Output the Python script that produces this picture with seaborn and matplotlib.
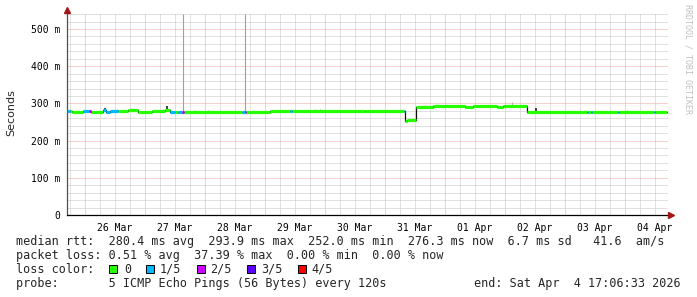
import matplotlib
matplotlib.use("Agg")
import matplotlib.pyplot as plt
import matplotlib.dates as mdates
import matplotlib.ticker as mticker
import matplotlib.transforms as mtransforms
from matplotlib.patches import Rectangle
import numpy as np
import pandas as pd
import seaborn as sns

# ---------------- data ----------------
seg_edges = [
    "2026-03-25 16:48", "2026-03-25 18:00", "2026-03-25 18:48", "2026-03-25 23:12",
    "2026-03-26 01:36", "2026-03-26 02:12", "2026-03-26 07:12", "2026-03-26 08:24",
    "2026-03-26 10:00", "2026-03-26 13:12", "2026-03-26 17:12", "2026-03-26 21:12",
    "2026-03-27 02:48", "2026-03-27 08:00", "2026-03-27 10:00", "2026-03-27 12:00",
    "2026-03-27 13:12", "2026-03-27 14:48", "2026-03-27 15:24", "2026-03-28 14:48",
    "2026-03-28 15:48", "2026-03-28 16:12", "2026-03-29 02:00", "2026-03-29 10:00",
    "2026-03-29 10:48", "2026-03-30 16:00", "2026-03-31 07:36", "2026-03-31 08:00",
    "2026-03-31 08:48", "2026-03-31 12:24", "2026-03-31 19:12", "2026-04-01 08:00",
    "2026-04-01 11:12", "2026-04-01 20:48", "2026-04-01 23:12", "2026-04-02 08:48",
    "2026-04-03 08:48", "2026-04-03 09:12", "2026-04-03 10:24", "2026-04-03 10:48",
    "2026-04-03 21:12", "2026-04-03 21:36", "2026-04-04 11:36", "2026-04-04 12:00",
    "2026-04-04 17:00",
]
seg_rtt_ms = [
    279, 279, 277, 280.5, 280, 277.5, 281, 278, 280, 280, 283.5, 277.5,
    280, 282, 277, 277.5, 277, 278, 277.5, 277.5, 278, 278, 279.5, 280,
    280, 278.5, 278.5, 252, 255.5, 289, 293.5, 291.5, 293.5, 291.5, 293.5, 277.5,
    277.5, 277.5, 277.5, 277, 277, 277, 277, 276.5,
]
seg_loss = [
    1, 0, 0, 1, 2, 0, 1, 1, 1, 0, 0, 0,
    0, 0, 1, 0, 1, 2, 0, 1, 2, 0, 0, 1,
    0, 0, 1, 0, 0, 0, 0, 0, 0, 0, 0, 0,
    1, 0, 1, 0, 1, 0, 1, 0,
]
# dark smoke bumps (max ping)
bump_time = ["2026-03-26 07:48", "2026-03-27 08:48", "2026-04-02 12:24"]
bump_top_ms = [288, 292, 288]
# tall smoke spikes
spike_time = ["2026-03-27 15:19", "2026-03-28 16:07"]
spike_top_ms = [540, 540]
# light smoke flecks
fleck_time = ["2026-03-26 12:48", "2026-03-26 18:24", "2026-03-27 07:12", "2026-03-27 20:00",
              "2026-03-28 01:12", "2026-03-29 20:00", "2026-03-29 22:00", "2026-03-31 16:00",
              "2026-04-02 02:48", "2026-04-03 08:00", "2026-04-04 00:48"]
fleck_top_ms = [284, 287, 284, 283, 283, 285, 285, 296, 303, 281, 282]

loss_labels = ["0", "1/5", "2/5", "3/5", "4/5"]
loss_colors = ["#26ff00", "#00b8ff", "#cc00ff", "#5e00ff", "#ff0000"]

x_start = "2026-03-25 16:48"
x_end = "2026-04-04 17:12"
y_max_ms = 543

legend_line1 = "median rtt:  280.4 ms avg  293.9 ms max  252.0 ms min  276.3 ms now  6.7 ms sd   41.6  am/s"
legend_line2 = "packet loss: 0.51 % avg  37.39 % max  0.00 % min  0.00 % now"
legend_line3 = "loss color:"
legend_line4 = "probe:       5 ICMP Echo Pings (56 Bytes) every 120s"
legend_end = "end: Sat Apr  4 17:06:33 2026"
y_label = "Seconds"
watermark = "RRDTOOL / TOBI OETIKER"

# ---------------- build tables ----------------
edges = pd.to_datetime(seg_edges)
rows = []
for i in range(len(seg_rtt_ms)):
    rows.append({"time": edges[i], "rtt": seg_rtt_ms[i], "seg": i, "loss": seg_loss[i]})
    rows.append({"time": edges[i + 1], "rtt": seg_rtt_ms[i], "seg": i, "loss": seg_loss[i]})
df = pd.DataFrame(rows)
steps = pd.DataFrame({"time": edges, "rtt": seg_rtt_ms + [seg_rtt_ms[-1]]})

def rtt_at(t):
    idx = np.searchsorted(edges.values, np.datetime64(t), side="right") - 1
    idx = min(max(idx, 0), len(seg_rtt_ms) - 1)
    return seg_rtt_ms[idx]

# ---------------- style ----------------
sns.set_style("white")
plt.rcParams["font.family"] = ["DejaVu Sans Mono"]
W, H = 697, 297
fig = plt.figure(figsize=(W / 100, H / 100), dpi=100)
fig.patch.set_facecolor("white")
ax = fig.add_axes([67 / W, 82 / H, 601 / W, 202 / H])
ax.set_facecolor("white")

major_c = "#f0a0a0"
minor_c = "#c4c4c4"
dot = (0, (1, 1))

# smoke
ax.vlines(pd.to_datetime(fleck_time), [rtt_at(t) for t in fleck_time], fleck_top_ms,
          colors="#b0b0b0", lw=0.8, zorder=2)
ax.vlines(pd.to_datetime(spike_time), [rtt_at(t) for t in spike_time], spike_top_ms,
          colors="#a0a0a0", lw=0.8, zorder=2)
ax.vlines(pd.to_datetime(bump_time), [rtt_at(t) for t in bump_time], bump_top_ms,
          colors="#202020", lw=1.2, zorder=2)

# step connectors (black)
sns.lineplot(data=steps, x="time", y="rtt", drawstyle="steps-post", color="#101010",
             lw=0.9, estimator=None, ax=ax, zorder=3)
# median coloured by loss
palette = {i: c for i, c in enumerate(loss_colors)}
sns.lineplot(data=df, x="time", y="rtt", hue="loss", units="seg", estimator=None,
             palette=palette, lw=2.3, legend=False, ax=ax, zorder=4,
             solid_capstyle="butt", sort=False)

ax.set_xlim(pd.Timestamp(x_start), pd.Timestamp(x_end))
ax.set_ylim(0, y_max_ms)

# grid & ticks
ax.yaxis.set_major_locator(mticker.MultipleLocator(100))
ax.yaxis.set_minor_locator(mticker.MultipleLocator(20))
ax.yaxis.set_major_formatter(mticker.FuncFormatter(lambda v, p: "0" if v == 0 else f"{v:.0f} m"))
ax.xaxis.set_major_locator(mdates.DayLocator())
ax.xaxis.set_major_formatter(mticker.NullFormatter())
ax.xaxis.set_minor_locator(mdates.HourLocator(byhour=[6, 12, 18]))
ax.xaxis.set_minor_formatter(mticker.FuncFormatter(
    lambda v, p: mdates.num2date(v).strftime("%d %b") if mdates.num2date(v).hour == 12 else ""))

ax.set_axisbelow(True)
ax.grid(which="minor", color=minor_c, ls=dot, lw=0.72)
ax.grid(which="major", color=major_c, ls=dot, lw=0.72)

ax.tick_params(axis="y", which="major", direction="out", length=3.6, width=0.72,
               color=major_c, pad=1.4, labelsize=7, labelcolor="black")
ax.tick_params(axis="y", which="minor", direction="out", length=1.5, width=0.72, color=minor_c)
ax.tick_params(axis="x", which="major", direction="out", length=2.0, width=0.72, color=major_c)
ax.tick_params(axis="x", which="minor", direction="out", length=1.5, width=0.72,
               color=minor_c, pad=4.0, labelsize=7, labelcolor="black")
ax.yaxis.get_major_ticks()[0].tick1line.set_color("black")

for s in ["top", "right"]:
    ax.spines[s].set_visible(False)
ax.spines["left"].set_color("#505050")
ax.spines["left"].set_linewidth(0.9)
ax.spines["bottom"].set_color("black")
ax.spines["bottom"].set_linewidth(0.9)
ax.set_xlabel("")
ax.set_ylabel("")

# arrows
up = mtransforms.offset_copy(ax.transAxes, fig=fig, x=0, y=2, units="points")
ax.plot([0], [1], marker="^", ms=4.5, color="#a01818", transform=up, clip_on=False, zorder=6)
rt = mtransforms.offset_copy(ax.transAxes, fig=fig, x=2.5, y=0, units="points")
ax.plot([1], [0], marker=">", ms=4.5, color="#a01818", transform=rt, clip_on=False, zorder=6)

# texts
def fx(px):
    return px / W

def fy(py):
    return 1 - py / H

fig.text(fx(11), fy(113), y_label, rotation=90, ha="center", va="center",
         fontsize=8, family=["DejaVu Sans"])
fig.text(fx(688), fy(59), watermark, rotation=270, ha="center", va="center",
         fontsize=6, color="#c0c0c0")

lfs = 8.5
fig.text(fx(16), fy(245), legend_line1, fontsize=lfs, va="baseline", ha="left")
fig.text(fx(16), fy(259), legend_line2, fontsize=lfs, va="baseline", ha="left")
fig.text(fx(16), fy(273), legend_line3, fontsize=lfs, va="baseline", ha="left")
fig.text(fx(16), fy(287), legend_line4, fontsize=lfs, va="baseline", ha="left")
fig.text(fx(681), fy(287), legend_end, fontsize=lfs, va="baseline", ha="right")

box_x = [108.5, 145.5, 196.5, 247, 298]
text_x = [124, 159.5, 210.5, 261, 311.5]
for bx, tx, c, lab in zip(box_x, text_x, loss_colors, loss_labels):
    fig.add_artist(Rectangle((fx(bx), fy(273)), 8 / W, 8 / H, transform=fig.transFigure,
                             facecolor=c, edgecolor="black", lw=0.7))
    fig.text(fx(tx), fy(273), lab, fontsize=lfs, va="baseline", ha="left")

fig.savefig("out.png", dpi=100, facecolor="white")
